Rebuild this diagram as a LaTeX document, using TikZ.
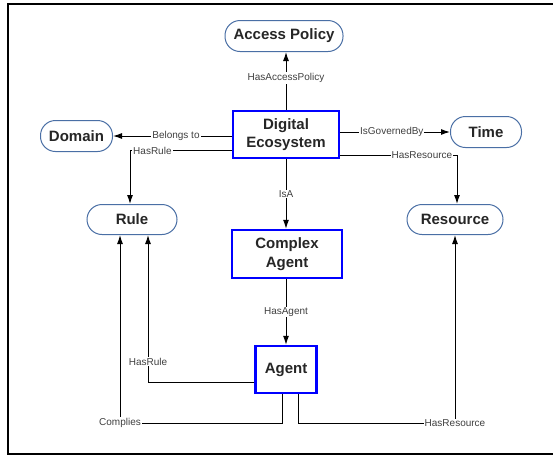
\documentclass[tikz,border=0pt]{standalone}
\usepackage{fontspec}
\setmainfont{Liberation Sans}
\usetikzlibrary{arrows.meta, positioning, calc}

\definecolor{pillblue}{HTML}{4A6FA5}

\begin{document}
\begin{tikzpicture}[
		x=1pt, y=-1pt,
		every node/.style={align=center},
		concept/.style={draw=pillblue, line width=1pt, fill=white, rounded corners=15pt, minimum height=31pt, font=\fontsize{15}{18.5}\selectfont\bfseries, text=black!85},
		entity/.style={draw=blue, line width=2.4pt, fill=white, font=\fontsize{15}{18.5}\selectfont\bfseries, text=black!85},
		arrow/.style={-{Latex[length=9pt, width=6pt]}, line width=1pt},
		lbl/.style={font=\fontsize{10}{12}\selectfont, text=black!75, fill=white, inner sep=1pt}
		]
		\useasboundingbox (0,0) rectangle (553,456);
		\draw[line width=1.5pt] (554,4) -- (8,4) -- (8,454) -- (554,454);
		
		% Nodes
		\node[concept, minimum width=118pt] (ap) at (284, 36) {Access Policy};
		\node[entity, minimum width=106pt, minimum height=47pt] (eco) at (286, 134.5) {Digital\\Ecosystem};
		\node[concept, minimum width=72pt] (dom) at (76.5, 136) {Domain};
		\node[concept, minimum width=71pt] (time) at (486, 132) {Time};
		\node[concept, minimum width=90pt, minimum height=30pt] (rule) at (132, 219.5) {Rule};
		\node[concept, minimum width=96pt, minimum height=30pt] (res) at (455, 219.5) {Resource};
		\node[entity, minimum width=110pt, minimum height=48pt] (cagent) at (287, 254) {Complex\\Agent};
		\node[entity, minimum width=61pt, minimum height=47pt] (agent) at (286, 369.5) {Agent};
		
		% Top level relations
		\draw[arrow] (eco.north -| 286,0) -- node[lbl, pos=0.55] {HasAccessPolicy} (ap.south -| 286,0);
		\draw[arrow] (eco.west |- dom.east) -- node[lbl, pos=0.47] {Belongs to} (dom.east);
		\draw[arrow] ([yshift=-16pt]eco.west) -| node[lbl, pos=0.39] {HasRule} ([xshift=-2pt]rule.north);
		\draw[arrow] (eco.east |- time.west) -- node[lbl, pos=0.47] {IsGovernedBy} (time.west);
		\draw[arrow] ([yshift=-20.5pt]eco.east) -| node[lbl, pos=0.35] {HasResource} ([xshift=2pt]res.north);
		
		% Agents
		\draw[arrow] (eco.south -| 286,0) -- node[lbl, pos=0.5] {IsA} (cagent.north -| 286,0);
		\draw[arrow] (cagent.south -| 286,0) -- node[lbl, pos=0.5] {HasAgent} (agent.north);
		
		% Agent relations
		\draw[arrow] ([yshift=-12.5pt]agent.west) -| node[lbl, pos=0.57] {HasRule} ([xshift=16pt]rule.south);
		\draw[arrow] ([xshift=-4pt]agent.south) |- ([xshift=-12pt]rule.south |- 0,423) node[lbl] {Complies} -- ([xshift=-12pt]rule.south);
		\draw[arrow] ([xshift=12pt]agent.south) |- (res.south |- 0,423) node[lbl] {HasResource} -- (res.south);
		
	\end{tikzpicture}
\end{document}
